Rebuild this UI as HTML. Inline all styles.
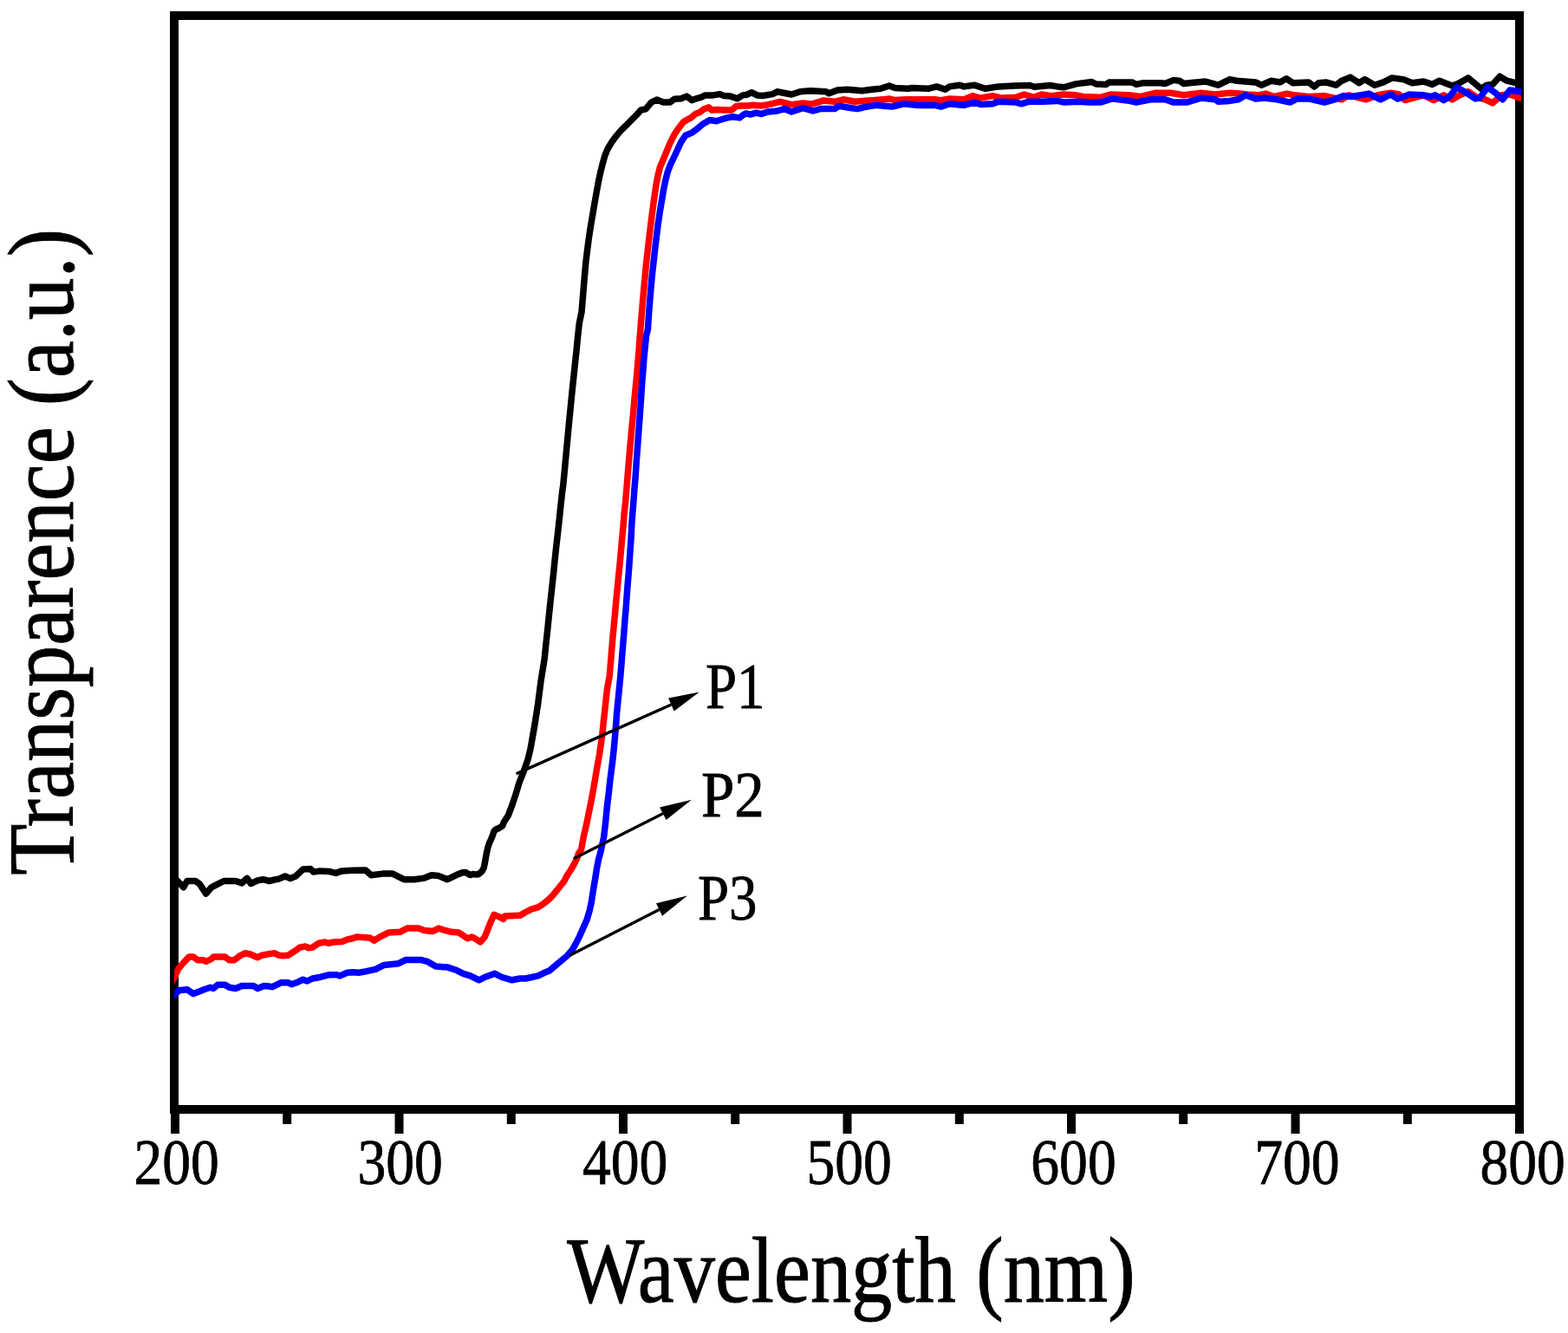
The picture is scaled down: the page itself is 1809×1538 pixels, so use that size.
<!DOCTYPE html>
<html><head><meta charset="utf-8"><title>Transparence vs Wavelength</title>
<style>html,body{margin:0;padding:0;background:#fff;}svg{display:block;}</style>
</head><body>
<svg width="1809" height="1538" viewBox="0 0 1809 1538">
<rect width="1809" height="1538" fill="#fff"/>
<rect x="201" y="18" width="1552" height="1262" fill="none" stroke="#000" stroke-width="10"/>
<rect x="197.0" y="1280" width="10" height="28" fill="#000"/>
<rect x="326.2" y="1280" width="10" height="17" fill="#000"/>
<rect x="455.5" y="1280" width="10" height="28" fill="#000"/>
<rect x="584.8" y="1280" width="10" height="17" fill="#000"/>
<rect x="714.0" y="1280" width="10" height="28" fill="#000"/>
<rect x="843.2" y="1280" width="10" height="17" fill="#000"/>
<rect x="972.5" y="1280" width="10" height="28" fill="#000"/>
<rect x="1101.8" y="1280" width="10" height="17" fill="#000"/>
<rect x="1231.0" y="1280" width="10" height="28" fill="#000"/>
<rect x="1360.2" y="1280" width="10" height="17" fill="#000"/>
<rect x="1489.5" y="1280" width="10" height="28" fill="#000"/>
<rect x="1618.8" y="1280" width="10" height="17" fill="#000"/>
<rect x="1748.0" y="1280" width="10" height="28" fill="#000"/>
<defs><clipPath id="pa"><rect x="201" y="0" width="1554" height="1538"/></clipPath></defs>
<g fill="none" stroke-width="7.5" stroke-linejoin="round" stroke-linecap="butt" clip-path="url(#pa)">
<path stroke="#000" d="M196.0,1007.2 L206.1,1017.9 L211.6,1023.8 L215.8,1016.5 L225.5,1016.5 L230.4,1020.1 L237.7,1031.1 L243.8,1023.8 L251.1,1020.1 L258.4,1016.5 L271.8,1016.5 L279.0,1018.9 L285.1,1013.4 L289.4,1019.5 L297.3,1015.9 L303.4,1014.7 L310.7,1016.5 L315.5,1015.3 L321.6,1014.1 L328.9,1011.0 L335.0,1013.4 L341.1,1011.0 L349.6,1003.1 L358.1,1002.5 L361.7,1006.1 L369.0,1004.9 L380.0,1005.5 L382.4,1006.1 L387.3,1007.4 L394.6,1004.9 L406.7,1004.3 L421.6,1003.9 L428.2,1009.8 L441.5,1008.1 L453.1,1008.1 L463.0,1013.1 L466.3,1014.7 L477.9,1014.7 L489.6,1013.1 L497.8,1009.8 L506.1,1010.6 L516.1,1014.7 L526.0,1009.8 L533.5,1006.7 L537.0,1006.4 L540.5,1008.5 L542.9,1009.6 L545.8,1008.5 L549.9,1009.1 L552.2,1008.5 L555.8,1005.6 L558.1,1001.5 L559.3,996.2 L560.4,989.7 L561.6,983.3 L562.8,978.0 L564.5,972.8 L566.9,967.5 L568.6,963.4 L569.8,959.3 L572.1,957.0 L576.2,955.2 L579.7,952.9 L581.5,948.2 L583.8,944.7 L586.2,941.2 L590.8,929.1 L595.1,916.1 L599.0,903.1 L604.2,890.1 L608.8,877.1 L612.0,864.1 L616.6,838.0 L620.7,812.0 L624.0,786.0 L628.2,760.1 L630.0,742.1 L631.7,726.5 L633.4,709.6 L635.2,692.7 L636.9,677.1 L638.6,661.5 L640.1,645.9 L641.8,630.2 L643.6,614.6 L645.3,599.0 L646.9,583.4 L648.6,567.8 L649.7,560.1 L651.7,539.5 L653.6,518.7 L655.3,500.5 L656.9,483.6 L658.6,466.7 L660.1,451.1 L661.8,435.4 L663.4,419.8 L665.1,404.2 L666.6,388.6 L668.3,373.0 L671.0,360.1 L672.5,342.1 L674.1,322.6 L675.8,303.1 L677.7,287.5 L679.4,274.5 L681.4,261.5 L683.6,248.5 L685.8,235.4 L688.1,222.4 L690.5,209.4 L692.7,199.0 L695.3,188.6 L697.9,179.5 L701.1,171.7 L705.0,165.2 L709.4,158.8 L715.8,151.2 L724.7,142.3 L733.6,133.4 L739.3,127.0 L745.0,125.8 L751.4,118.1 L757.7,115.0 L765.4,118.1 L773.0,118.1 L778.1,114.3 L785.7,113.7 L792.1,111.1 L798.4,115.6 L803.5,113.7 L808.6,112.4 L813.7,109.9 L822.6,109.9 L830.2,108.6 L835.3,110.5 L842.9,111.1 L850.5,113.7 L856.9,109.9 L862.0,109.2 L867.1,106.7 L873.4,109.9 L879.8,110.5 L891.2,108.6 L896.3,106.1 L896.3,106.1 L896.6,105.7 L913.2,109.0 L923.1,105.7 L934.7,104.8 L953.0,105.7 L956.3,107.8 L966.2,104.0 L977.8,103.2 L994.4,104.8 L1006.0,103.2 L1016.0,102.3 L1025.9,99.0 L1032.6,101.5 L1047.5,102.3 L1052.5,101.5 L1070.7,102.3 L1080.7,99.9 L1090.6,103.2 L1095.6,99.9 L1107.2,98.2 L1112.2,99.9 L1123.8,98.2 L1137.0,102.3 L1152.0,99.9 L1170.2,99.0 L1188.2,98.5 L1193.2,100.2 L1211.5,98.5 L1219.8,99.9 L1228.0,100.7 L1241.3,96.9 L1259.6,94.5 L1264.5,97.0 L1276.1,97.4 L1279.5,94.9 L1306.0,94.9 L1311.0,97.4 L1319.3,95.7 L1339.2,95.7 L1344.1,96.5 L1354.1,92.4 L1360.7,93.2 L1365.7,96.5 L1372.3,95.7 L1390.6,94.0 L1405.5,98.2 L1418.8,91.6 L1427.0,93.2 L1448.6,94.9 L1455.2,98.2 L1466.6,93.2 L1476.6,94.9 L1484.0,90.7 L1491.5,95.7 L1509.8,94.9 L1516.4,99.9 L1521.4,95.7 L1529.7,94.9 L1541.3,98.2 L1547.9,93.2 L1557.8,89.1 L1567.8,95.7 L1574.4,91.6 L1586.0,98.2 L1596.0,94.9 L1605.9,89.9 L1619.2,91.6 L1629.2,95.7 L1642.4,94.0 L1652.4,97.4 L1660.7,93.2 L1669.0,96.5 L1675.6,99.0 L1682.2,96.5 L1693.8,89.9 L1708.8,102.3 L1715.4,98.2 L1722.0,97.4 L1730.3,88.2 L1738.6,93.2 L1748.6,95.7 L1754.4,96.2 L1762.0,96.2"/>
<path stroke="#f00" d="M196.0,1137.6 L201.2,1127.2 L206.1,1117.4 L212.2,1110.1 L218.2,1104.0 L223.1,1104.0 L228.0,1107.7 L234.1,1107.7 L237.7,1109.5 L243.8,1106.5 L246.2,1104.0 L259.6,1104.0 L264.5,1107.7 L270.5,1107.7 L276.6,1102.8 L282.7,1099.8 L288.8,1101.0 L297.3,1104.7 L302.2,1102.2 L311.9,1100.4 L316.7,1099.8 L321.6,1102.2 L326.5,1102.8 L332.6,1102.2 L341.1,1096.7 L345.9,1093.1 L352.0,1091.9 L355.7,1093.7 L360.5,1093.1 L367.8,1088.2 L375.1,1087.0 L378.8,1088.2 L384.9,1087.0 L394.6,1086.4 L400.7,1084.0 L406.7,1082.8 L411.6,1080.9 L426.5,1081.9 L431.5,1085.2 L438.1,1081.1 L448.1,1076.1 L461.4,1075.3 L469.7,1071.1 L482.9,1071.1 L489.6,1073.6 L499.5,1074.4 L506.1,1071.1 L511.1,1072.8 L521.1,1075.3 L529.4,1076.1 L539.3,1082.7 L544.3,1081.1 L547.6,1082.7 L554.2,1086.9 L559.2,1081.1 L562.5,1072.8 L565.8,1064.5 L570.0,1055.4 L575.8,1057.8 L580.8,1060.3 L582.4,1057.0 L599.0,1056.2 L600.0,1056.2 L606.2,1052.5 L613.5,1048.9 L620.8,1046.8 L627.1,1042.6 L632.3,1038.5 L637.5,1033.3 L642.7,1027.0 L646.8,1021.8 L651.0,1016.6 L654.1,1010.4 L658.3,1004.1 L662.4,996.9 L665.6,990.6 L667.6,984.4 L670.6,980.1 L673.2,966.0 L676.5,951.7 L679.7,936.1 L682.3,923.1 L684.7,910.1 L686.9,897.1 L689.1,884.1 L691.4,871.1 L693.4,858.0 L695.1,845.0 L696.4,832.0 L697.9,819.0 L699.2,806.0 L700.8,793.0 L703.2,780.1 L704.5,764.7 L705.8,749.1 L707.1,733.5 L708.6,717.9 L709.9,703.6 L711.2,689.3 L712.5,676.3 L713.8,663.3 L715.1,650.2 L716.4,635.9 L717.7,621.6 L719.0,607.3 L720.1,593.0 L721.5,580.1 L722.8,564.7 L724.1,549.1 L725.4,533.5 L726.7,517.9 L728.0,503.6 L729.3,489.3 L730.6,476.3 L731.9,460.7 L733.2,447.6 L734.5,434.6 L735.8,419.0 L737.1,403.4 L738.0,390.4 L738.9,380.1 L740.3,362.1 L741.9,343.9 L743.5,325.7 L745.2,307.5 L746.9,291.9 L748.4,278.9 L750.1,264.6 L751.7,251.5 L753.4,238.5 L755.2,225.5 L756.9,213.8 L759.1,202.1 L761.4,193.0 L764.7,185.2 L773.0,165.2 L778.1,155.0 L781.9,149.3 L788.2,141.0 L792.1,138.5 L797.1,135.9 L802.2,131.5 L807.3,129.6 L812.4,125.8 L817.5,123.9 L821.3,127.0 L827.7,126.4 L835.3,127.0 L844.2,127.0 L849.3,122.6 L854.4,122.0 L863.3,122.0 L868.3,121.3 L878.5,122.0 L886.1,120.7 L890.0,119.8 L899.9,117.3 L913.2,120.6 L926.4,118.9 L936.4,120.1 L949.7,116.1 L962.9,117.3 L972.9,114.8 L986.1,117.3 L996.1,116.4 L1009.4,115.6 L1025.9,113.9 L1032.6,115.6 L1045.8,114.8 L1079.0,114.8 L1085.6,115.6 L1095.6,113.9 L1112.2,114.8 L1122.1,110.6 L1130.4,113.1 L1145.3,110.6 L1155.3,113.1 L1171.9,112.3 L1181.6,109.0 L1193.2,112.3 L1201.5,109.0 L1213.1,110.6 L1226.4,109.0 L1241.3,109.8 L1249.6,111.5 L1269.5,112.3 L1281.1,109.0 L1302.7,109.8 L1315.9,111.5 L1332.5,107.3 L1350.8,107.3 L1365.7,109.8 L1385.6,107.3 L1402.2,109.0 L1418.8,107.3 L1432.0,108.1 L1438.7,109.0 L1451.9,109.8 L1460.2,108.1 L1470.0,111.5 L1484.9,108.1 L1493.2,109.8 L1509.8,111.5 L1528.0,110.6 L1539.6,113.1 L1547.9,114.8 L1556.2,109.8 L1576.1,114.8 L1589.4,109.8 L1604.3,107.3 L1614.2,109.0 L1620.9,115.6 L1627.5,113.9 L1642.4,109.8 L1654.0,115.6 L1665.6,109.8 L1675.6,114.8 L1683.9,109.8 L1693.8,105.7 L1703.8,112.3 L1713.7,114.8 L1722.0,118.9 L1732.0,109.8 L1741.9,109.0 L1754.4,113.1 L1762.0,113.1"/>
<path stroke="#00f" d="M196.0,1152.5 L201.2,1147.8 L207.3,1142.4 L215.8,1141.7 L223.1,1146.6 L229.2,1144.2 L235.3,1141.7 L242.6,1139.3 L246.2,1140.5 L251.1,1136.3 L259.6,1136.3 L264.5,1139.3 L271.8,1140.5 L279.0,1137.5 L292.4,1137.5 L297.3,1140.5 L304.6,1137.5 L310.7,1138.1 L314.3,1138.7 L324.0,1133.8 L332.6,1133.8 L336.2,1135.7 L343.5,1133.2 L349.6,1130.2 L354.4,1132.0 L360.5,1129.0 L370.3,1127.2 L380.0,1124.7 L388.5,1124.7 L392.2,1125.9 L400.7,1122.3 L406.7,1121.7 L414.0,1122.3 L421.6,1120.9 L433.2,1118.4 L443.1,1113.4 L459.7,1111.7 L468.0,1107.6 L486.2,1107.6 L492.9,1109.3 L502.8,1115.1 L516.1,1115.9 L526.0,1119.2 L534.3,1123.3 L542.6,1125.8 L552.6,1130.8 L559.2,1127.5 L570.8,1123.3 L579.1,1127.5 L590.7,1130.8 L600.0,1129.0 L606.2,1129.0 L613.5,1127.5 L620.8,1125.9 L627.1,1122.8 L634.3,1119.7 L641.6,1113.4 L647.9,1108.2 L654.1,1103.0 L660.4,1095.7 L664.5,1088.4 L668.7,1080.1 L672.8,1070.7 L677.0,1061.4 L680.1,1051.0 L682.2,1041.6 L683.8,1031.2 L685.3,1021.8 L686.9,1012.5 L688.5,1002.1 L690.5,991.7 L693.1,982.3 L696.6,966.0 L698.6,949.1 L700.5,929.6 L702.1,916.6 L703.5,903.6 L705.1,890.6 L706.8,877.6 L708.3,863.3 L709.6,848.9 L710.7,835.9 L711.6,822.9 L712.9,809.9 L714.2,796.9 L715.8,780.1 L717.1,764.7 L718.4,747.8 L719.7,732.2 L721.0,715.3 L722.3,699.7 L723.2,686.7 L724.2,673.7 L725.3,660.7 L726.2,647.6 L727.1,634.6 L728.1,620.3 L728.8,606.0 L729.7,593.0 L730.8,580.1 L731.9,564.7 L733.2,549.1 L734.2,533.5 L735.4,517.9 L736.4,503.6 L737.5,489.3 L738.6,473.7 L739.7,458.0 L740.7,442.4 L741.9,428.1 L742.9,413.8 L744.2,400.8 L745.5,387.8 L747.4,380.1 L748.4,364.7 L749.7,347.8 L751.0,332.2 L752.3,317.9 L753.9,303.6 L755.6,288.0 L757.3,273.7 L759.1,259.3 L761.2,245.0 L763.4,232.0 L765.3,220.3 L767.7,208.6 L770.3,198.2 L773.8,189.1 L777.7,181.3 L785.7,163.9 L790.8,156.3 L798.4,153.1 L803.5,149.3 L811.1,142.9 L818.8,138.5 L826.4,139.8 L832.7,137.8 L839.1,135.9 L845.5,134.7 L853.1,135.9 L858.2,132.1 L860.7,130.9 L865.8,132.1 L872.2,130.2 L878.5,131.5 L886.1,128.9 L893.8,128.3 L896.6,128.0 L904.9,125.6 L913.2,128.9 L926.4,124.7 L938.0,128.0 L946.3,125.6 L962.9,125.6 L967.9,122.2 L982.8,124.7 L989.5,125.6 L996.1,123.9 L1011.0,121.4 L1029.3,123.1 L1042.5,119.8 L1059.1,121.4 L1079.0,121.4 L1085.6,123.1 L1095.6,119.8 L1112.2,121.4 L1123.8,118.1 L1132.1,120.6 L1145.3,119.8 L1152.0,117.3 L1171.9,118.1 L1178.3,119.8 L1186.6,117.3 L1203.2,117.3 L1219.8,116.4 L1228.0,118.1 L1244.6,117.3 L1256.2,118.1 L1269.5,118.1 L1282.8,113.9 L1302.7,116.4 L1311.0,118.1 L1327.5,114.8 L1344.1,114.8 L1354.1,118.1 L1369.0,118.1 L1385.6,113.1 L1402.2,114.8 L1405.5,117.3 L1418.8,116.4 L1428.7,114.8 L1437.0,109.8 L1448.6,113.9 L1458.6,113.1 L1473.3,114.8 L1488.2,118.1 L1496.5,113.9 L1509.8,113.9 L1528.0,118.1 L1539.6,114.8 L1549.6,110.6 L1559.5,111.5 L1579.4,108.1 L1592.7,114.8 L1604.3,109.0 L1612.6,113.9 L1625.8,109.0 L1642.4,109.8 L1650.7,111.5 L1655.7,109.8 L1665.6,115.6 L1672.3,111.5 L1680.6,100.7 L1692.2,107.3 L1702.1,113.9 L1707.1,113.1 L1716.2,100.7 L1725.3,107.3 L1733.6,114.8 L1741.9,104.0 L1754.4,105.7 L1762.0,105.7"/>
</g>
<line x1="595.6" y1="892.9" x2="774.4" y2="813.0" stroke="#000" stroke-width="3.4"/>
<polygon points="806.8,798.6 771.1,805.4 777.7,820.5" fill="#000"/>
<line x1="661.8" y1="990.8" x2="764.9" y2="938.6" stroke="#000" stroke-width="3.4"/>
<polygon points="797.9,922.7 761.1,931.4 768.6,945.9" fill="#000"/>
<line x1="657.0" y1="1102.6" x2="760.5" y2="1049.5" stroke="#000" stroke-width="3.4"/>
<polygon points="792.9,1033.6 757.0,1042.3 764.0,1056.8" fill="#000"/>
<g font-family="Liberation Serif, Times New Roman, serif" font-size="74.6" fill="#000" stroke="#000" stroke-width="0.8">
<text transform="translate(203.6,1366) scale(0.88,1)" text-anchor="middle">200</text>
<text transform="translate(461.7,1366) scale(0.88,1)" text-anchor="middle">300</text>
<text transform="translate(721.1,1366) scale(0.88,1)" text-anchor="middle">400</text>
<text transform="translate(979.6,1366) scale(0.88,1)" text-anchor="middle">500</text>
<text transform="translate(1238.5,1366) scale(0.88,1)" text-anchor="middle">600</text>
<text transform="translate(1496.4,1366) scale(0.88,1)" text-anchor="middle">700</text>
<text transform="translate(1756.6,1366) scale(0.88,1)" text-anchor="middle">800</text>
<text transform="translate(813.9,817.0) scale(0.87,1)">P1</text>
<text transform="translate(808.9,941.8) scale(0.925,1)">P2</text>
<text transform="translate(805.0,1060.8) scale(0.87,1)">P3</text>
</g>
<g font-family="Liberation Serif, Times New Roman, serif" font-size="107" fill="#000" stroke="#000" stroke-width="1.0">
<text transform="translate(982,1502) scale(0.882,1)" text-anchor="middle">Wavelength (nm)</text>
<text transform="translate(84,637) rotate(-90) scale(0.904,1)" text-anchor="middle">Transparence (a.u.)</text>
</g>
</svg>
</body></html>
